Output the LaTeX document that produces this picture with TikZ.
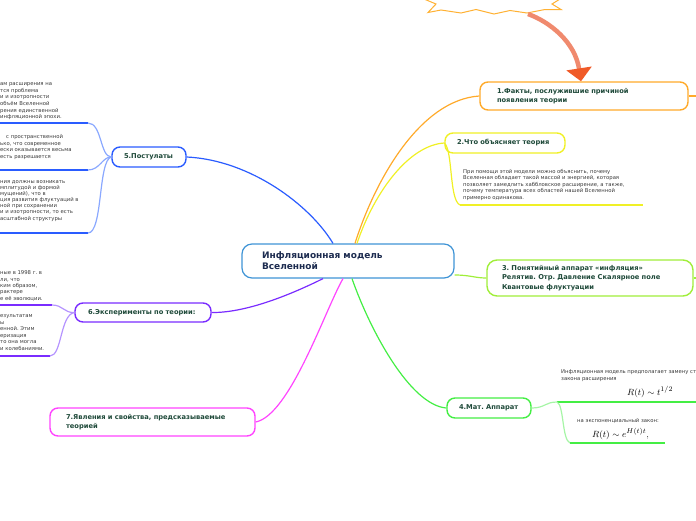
\documentclass[tikz,border=0pt]{standalone}
\usepackage[no-math]{fontspec}
\setmainfont{DejaVu Sans}
\usetikzlibrary{arrows.meta}
\definecolor{cblue}{HTML}{2A5CFF}
\definecolor{clblue}{HTML}{8AA8FF}
\definecolor{corange}{HTML}{FFAA2A}
\definecolor{cyellow}{HTML}{F0F026}
\definecolor{clgreen}{HTML}{A0EE3A}
\definecolor{cgreen}{HTML}{44EE44}
\definecolor{clgreen2}{HTML}{A6F5A6}
\definecolor{cmag}{HTML}{FF44FF}
\definecolor{cpurple}{HTML}{7A2CFF}
\definecolor{clpurple}{HTML}{B594FF}
\definecolor{ccentral}{HTML}{3F94D6}
\definecolor{labelc}{HTML}{1F4A3A}
\definecolor{centertext}{HTML}{1C2B4F}
\definecolor{textc}{HTML}{3A3A3A}
\definecolor{arrowline}{HTML}{F08A6E}
\definecolor{arrowhead}{HTML}{F05A28}
\definecolor{cstar}{HTML}{FFB133}
\frenchspacing
\begin{document}
\begin{tikzpicture}[x=1pt,y=-1pt,
  topic/.style={draw, fill=white, rounded corners=8pt, line width=1.4pt,
    inner xsep=0pt, inner ysep=0pt, align=left,
    font=\fontsize{6.7}{9.5}\selectfont\bfseries, text=labelc},
  small/.style={font=\fontsize{5.3}{6.5}\selectfont, text=textc,
    inner sep=0pt, align=left, anchor=north west},
  conn/.style={line width=1.2pt},
  under/.style={line width=1.8pt}]
\useasboundingbox (0,0) rectangle (696,520);
\clip (0,0) rectangle (696,520);

% star and arrow
\draw[cstar, line width=1pt] (424,-1) -- (436,4) -- (428,12.5) -- (441,10) -- (461,13) -- (476,9.5)
  -- (494,14) -- (510,10.5) -- (527,13) -- (545,9.5) -- (561,9.5) -- (552,4) -- (560,-1);
\coordinate (starb) at (528,14);

% nodes
\node[topic, draw=ccentral, line width=1.2pt, rounded corners=10pt, minimum width=212pt, minimum height=34pt,
  text width=172pt, font=\fontsize{9}{11}\selectfont\bfseries, text=centertext]
  (c) at (348,261) {\mbox{Инфляционная модель}\\\mbox{Вселенной}};
\node[topic, draw=corange, minimum width=208pt, minimum height=28pt, text width=174pt]
  (n1) at (584,96) {\mbox{1.Факты, послужившие причиной}\\\mbox{появления теории}};
\node[topic, draw=cyellow, minimum width=120pt, minimum height=20pt, text width=96pt]
  (n2) at (505,143) {\mbox{2.Что объясняет теория}};
\node[topic, draw=clgreen, rounded corners=10pt, minimum width=206pt, minimum height=36pt, text width=176pt]
  (n3) at (590,278) {\mbox{3. Понятийный аппарат «инфляция»}\\\mbox{Релятив. Отр. Давление Скалярное поле}\\\mbox{Квантовые флуктуации}};
\node[topic, draw=cgreen, minimum width=84pt, minimum height=20pt, text width=60pt]
  (n4) at (489,408) {\mbox{4.Мат. Аппарат}};
\node[topic, draw=cblue, minimum width=74pt, minimum height=20pt, text width=50pt]
  (n5) at (149,157) {\mbox{5.Постулаты}};
\node[topic, draw=cpurple, minimum width=136pt, minimum height=19pt, text width=110pt]
  (n6) at (143,312.5) {\mbox{6.Эксперименты по теории:}};
\node[topic, draw=cmag, minimum width=205pt, minimum height=28pt, text width=173pt]
  (n7) at (152.5,422) {\mbox{7.Явления и свойства, предсказываемые}\\\mbox{теорией}};

% arrow from star to node 1
\draw[arrowline, line width=4.5pt, -{Triangle[width=25pt,length=13pt,color=arrowhead]}]
  (starb) .. controls (550,22) and (575,42) .. ([xshift=-3pt]n1.north);

% main connectors
\draw[conn, cblue] ([xshift=-15pt]c.north) .. controls (310,205) and (250,160) .. (n5.east);
\draw[conn, corange] ([xshift=7pt]c.north) .. controls (375,180) and (420,100) .. (n1.west);
\draw[conn, cyellow] ([xshift=9pt]c.north) .. controls (375,190) and (410,145) .. (n2.west);
\draw[conn, cpurple] ([xshift=-25pt]c.south) .. controls (300,290) and (250,313) .. (n6.east);
\draw[conn, cmag] ([xshift=-5pt]c.south) .. controls (325,310) and (290,415) .. (n7.east);
\draw[conn, cgreen] ([xshift=4pt]c.south) .. controls (370,330) and (410,405) .. (n4.west);
\draw[conn, clgreen] ([yshift=-14pt]c.east) .. controls (470,275) and (475,278) .. (n3.west);

% free ends on the right
\coordinate (e1) at (700,96);
\coordinate (e3) at (700,278);
\draw[conn, corange] (n1.east) -- (e1);
\draw[conn, clgreen] (n3.east) -- (e3);

% node 2 subtopic
\coordinate (s2a) at (460,205);
\coordinate (s2b) at (643,205);
\draw[conn, cyellow] (n2.west) .. controls (453,150) and (449,200) .. (s2a);
\draw[under, cyellow] (s2a) -- (s2b);
\node[small] (t2) at (463,169) {При помощи этой модели можно объяснить, почему\\
Вселенная обладает такой массой и энергией, которая\\
позволяет замедлить хаббловское расширение, а также,\\
почему температура всех областей нашей Вселенной\\
примерно одинакова.};

% node 4 subtopics
\coordinate (s4a) at (557,402);
\coordinate (s4b) at (700,402);
\coordinate (s4c) at (570,443);
\coordinate (s4d) at (665,443);
\draw[conn, clgreen2] (n4.east) .. controls (545,408) and (545,402) .. (s4a);
\draw[under, cgreen] (s4a) -- (s4b);
\draw[conn, clgreen2] (s4a) .. controls (564,405) and (562,440) .. (s4c);
\draw[under, cgreen] (s4c) -- (s4d);
\node[small, font=\fontsize{5.3}{7.3}\selectfont] (t4a) at (561,369.3) {Инфляционная модель предполагает замену ст\\закона расширения};
\node[inner sep=0pt, anchor=base west, font=\fontsize{9.5}{11}\selectfont] (f1) at (627,395) {$R(t)\sim t^{1/2}$};
\node[small] (t4b) at (577,418) {на экспоненциальный закон:};
\node[inner sep=0pt, anchor=base west, font=\fontsize{9.5}{11}\selectfont] (f2) at (592,437) {$R(t)\sim e^{H(t)t},$};

% node 5 subtopics
\coordinate (a0) at (-5,123);
\coordinate (a1) at (88,123);
\coordinate (b0) at (-5,170);
\coordinate (b1) at (88,170);
\coordinate (k0) at (-5,233);
\coordinate (k1) at (88,233);
\draw[under, cblue] (a0) -- (a1);
\draw[conn, clblue] (a1) .. controls (102,123) and (100,157) .. (n5.west);
\draw[under, cblue] (b0) -- (b1);
\draw[conn, clblue] (b1) .. controls (100,170) and (102,157) .. (n5.west);
\draw[under, cblue] (k0) -- (k1);
\draw[conn, clblue] (k1) .. controls (103,233) and (98,160) .. (n5.west);
\node[small, font=\fontsize{5.3}{6.6}\selectfont] (ta) at (0,82.5) {ам расширения на\\тся проблема\\и и изотропности\\объём Вселенной\\рения единственной\\инфляционной эпохи.};
\node[small] (tb) at (0,134.5) {\hspace*{6pt}с пространственной\\ько, что современное\\ески оказывается весьма\\есть разрешается};
\node[small, font=\fontsize{5.3}{6.1}\selectfont] (tc) at (0,180.3) {ния должны возникать\\мплитудой и формой\\мущений), что в\\ция развития флуктуаций в\\ной при сохранении\\и и изотропности, то есть\\асштабной структуры};

% node 6 subtopics
\coordinate (d0) at (-5,305);
\coordinate (d1) at (52,305);
\coordinate (g0) at (-5,356);
\coordinate (g1) at (50,356);
\draw[under, cpurple] (d0) -- (d1);
\draw[conn, clpurple] (d1) .. controls (63,305) and (64,313) .. (n6.west);
\draw[under, cpurple] (g0) -- (g1);
\draw[conn, clpurple] (g1) .. controls (62,356) and (60,315) .. (n6.west);
\node[small, font=\fontsize{5.3}{6.35}\selectfont] (td) at (0,270.8) {ные в 1998 г. в\\ли, что\\ким образом,\\рактере\\е её эволюции.};
\node[small] (tf) at (0,314.8) {езультатам\\ы\\енной. Этим\\еризация\\то она могла\\и колебаниями.};
\end{tikzpicture}
\end{document}
